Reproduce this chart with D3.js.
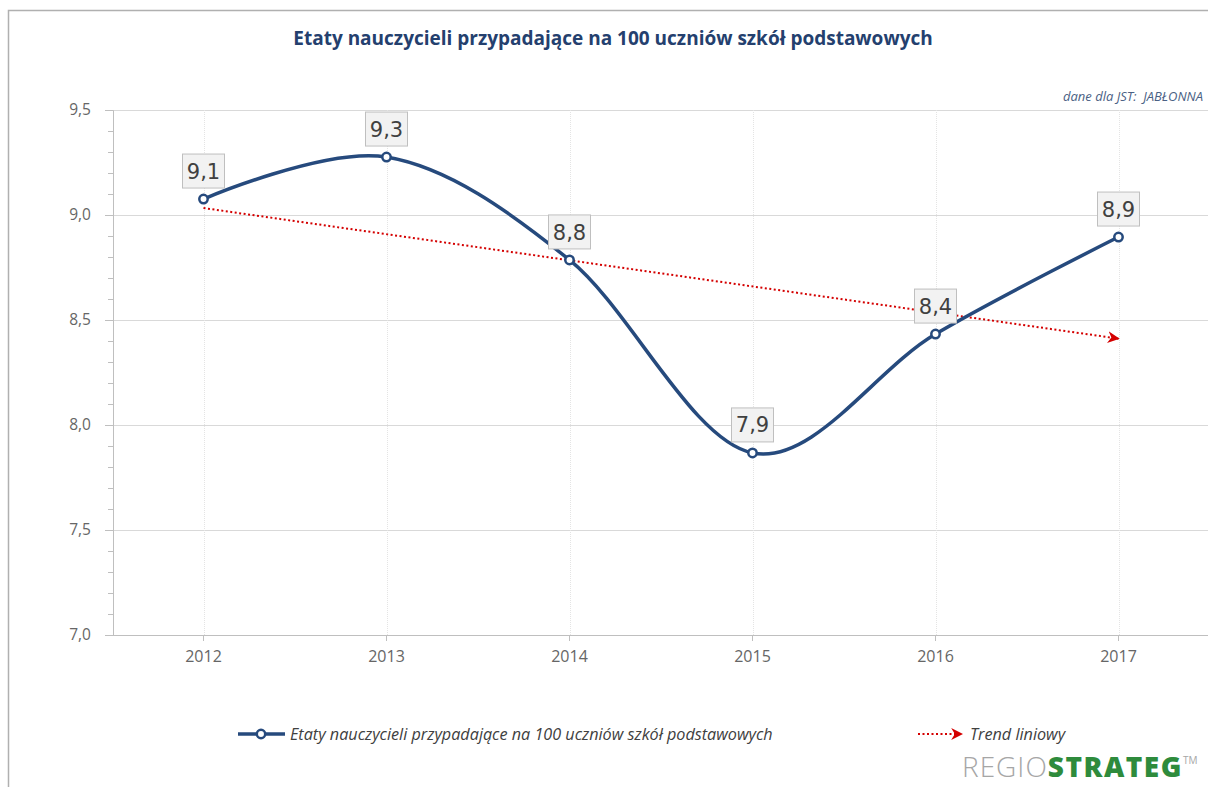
<!DOCTYPE html>
<html>
<head>
<meta charset="utf-8">
<script src="https://cdn.jsdelivr.net/npm/d3@7"></script>
<style>
  body { margin: 0; background: #fff; }
  svg { display: block; }
</style>
</head>
<body>
<div id="chart"></div>
<script>
// dane
var years = ["2012", "2013", "2014", "2015", "2016", "2017"];
var values = [9.076, 9.276, 8.786, 7.867, 8.433, 8.895];
var labels = ["9,1", "9,3", "8,8", "7,9", "8,4", "8,9"];
var yTicks = [7.0, 7.5, 8.0, 8.5, 9.0, 9.5];

var titleText = "Etaty nauczycieli przypadające na 100 uczniów szkół podstawowych";
var seriesName = "Etaty nauczycieli przypadające na 100 uczniów szkół podstawowych";
var trendName = "Trend liniowy";
var noteText = "dane dla JST:  JABŁONNA";

var W = 1208, H = 787;
var margin = {top: 110, right: -2, bottom: 152, left: 113};
var width = W - margin.left - margin.right;
var height = H - margin.top - margin.bottom;

var svg = d3.select("#chart")
    .append("svg")
    .attr("width", W)
    .attr("height", H);

// ramka
svg.append("rect")
    .attr("x", 8.5).attr("y", 10.5)
    .attr("width", 1220).attr("height", 800)
    .attr("fill", "none")
    .attr("stroke", "#b0b0b0")
    .attr("stroke-width", 1.5);

svg.append("text")
    .attr("x", 613).attr("y", 45)
    .attr("text-anchor", "middle")
    .style("font-family", "'Open Sans', sans-serif")
    .style("font-weight", "bold")
    .style("font-size", "19px")
    .style("fill", "#24406e")
    .text(titleText);

svg.append("text")
    .attr("x", 1203).attr("y", 101)
    .attr("text-anchor", "end")
    .style("white-space", "pre")
    .style("font-family", "'Open Sans', sans-serif")
    .style("font-style", "italic")
    .style("font-size", "13px")
    .style("fill", "#4a6184")
    .text(noteText);

var g = svg.append("g")
    .attr("transform", "translate(" + margin.left + "," + margin.top + ")");

var x = d3.scaleBand()
    .domain(years)
    .range([-1, 6 * 183 - 1]);

var y = d3.scaleLinear()
    .domain([7.0, 9.5])
    .range([height, 0]);

function cx(d) { return x(d) + x.bandwidth() / 2; }

// siatka pozioma
g.selectAll(".hgrid")
    .data(yTicks.slice(1))
    .enter()
    .append("line")
    .attr("x1", 0).attr("x2", width)
    .attr("y1", function(d) { return Math.round(y(d)) + 0.5; })
    .attr("y2", function(d) { return Math.round(y(d)) + 0.5; })
    .attr("stroke", "#d9d9d9");

// siatka pionowa (kropkowana)
g.selectAll(".vgrid")
    .data(years)
    .enter()
    .append("line")
    .attr("x1", function(d) { return Math.round(cx(d)) + 0.5; })
    .attr("x2", function(d) { return Math.round(cx(d)) + 0.5; })
    .attr("y1", 0).attr("y2", height)
    .attr("stroke", "#e4e4e4")
    .attr("stroke-dasharray", "1,1");

// oś Y
var yAxis = g.append("g")
    .call(d3.axisLeft(y).tickValues(yTicks).tickSize(8).tickPadding(14)
        .tickFormat(function(d) { return d3.format(".1f")(d).replace(".", ","); }));
yAxis.select(".domain").attr("stroke", "#bfbfbf");
yAxis.selectAll(".tick line").attr("stroke", "#bfbfbf");
yAxis.selectAll(".tick text")
    .style("font-family", "'Open Sans', sans-serif")
    .style("font-size", "15.5px")
    .style("fill", "#666");

// drobne podziałki Y
g.append("g")
    .call(d3.axisLeft(y).ticks(25).tickSize(5).tickFormat(""))
    .call(function(s) {
        s.select(".domain").remove();
        s.selectAll(".tick line").attr("stroke", "#bfbfbf");
    });

// oś X
var xAxis = g.append("g")
    .attr("transform", "translate(0," + height + ")")
    .call(d3.axisBottom(x).tickSize(6).tickPadding(10));
xAxis.select(".domain").attr("stroke", "#bfbfbf").attr("d", "M0,0.5H" + width);
xAxis.selectAll(".tick line").attr("stroke", "#bfbfbf");
xAxis.selectAll(".tick text")
    .style("font-family", "'Open Sans', sans-serif")
    .style("font-size", "16px")
    .style("fill", "#666");

// linia trendu (regresja liniowa)
var n = values.length;
var xm = (n - 1) / 2;
var ym = d3.mean(values);
var slope = d3.sum(values, function(v, i) { return (i - xm) * (v - ym); }) /
            d3.sum(values, function(v, i) { return (i - xm) * (i - xm); });
var trend = [ym - slope * xm, ym + slope * (n - 1 - xm)];

var defs = svg.append("defs");
defs.append("marker")
    .attr("id", "arrow")
    .attr("viewBox", "0 0 10 10")
    .attr("refX", 9).attr("refY", 5)
    .attr("markerWidth", 6).attr("markerHeight", 6)
    .attr("markerUnits", "strokeWidth")
    .attr("orient", "auto")
    .append("path")
    .attr("d", "M0,0L10,5L0,10L3,5Z")
    .attr("fill", "#d40000");

g.append("line")
    .attr("x1", cx(years[0])).attr("y1", y(trend[0]))
    .attr("x2", cx(years[n - 1])).attr("y2", y(trend[1]))
    .attr("stroke", "#d40000")
    .attr("stroke-width", 2)
    .attr("stroke-dasharray", "2,2.5")
    .attr("marker-end", "url(#arrow)");

// seria
var line = d3.line()
    .x(function(d, i) { return cx(years[i]); })
    .y(function(d) { return y(d); })
    .curve(d3.curveCardinal.tension(0));

g.append("path")
    .datum(values)
    .attr("d", line)
    .attr("fill", "none")
    .attr("stroke", "#264a7d")
    .attr("stroke-width", 3.5);

g.selectAll(".pt")
    .data(values)
    .enter()
    .append("circle")
    .attr("cx", function(d, i) { return cx(years[i]); })
    .attr("cy", function(d) { return y(d); })
    .attr("r", 4.2)
    .attr("fill", "#fff")
    .attr("stroke", "#264a7d")
    .attr("stroke-width", 2.5);

// etykiety danych
var lab = g.selectAll(".lab")
    .data(values)
    .enter()
    .append("g")
    .attr("transform", function(d, i) {
        return "translate(" + cx(years[i]) + "," + (y(d) - 28) + ")";
    });
lab.append("rect")
    .attr("x", -21).attr("y", -17)
    .attr("width", 42).attr("height", 34)
    .attr("fill", "#f2f2f2")
    .attr("stroke", "#bfbfbf");
lab.append("text")
    .attr("text-anchor", "middle")
    .attr("dy", "0.36em")
    .style("font-family", "'DejaVu Sans', sans-serif")
    .style("font-size", "21px")
    .style("fill", "#404040")
    .text(function(d, i) { return labels[i]; });

// legenda
var leg = svg.append("g");
leg.append("line")
    .attr("x1", 238).attr("x2", 285)
    .attr("y1", 734).attr("y2", 734)
    .attr("stroke", "#264a7d").attr("stroke-width", 3.5);
leg.append("circle")
    .attr("cx", 261).attr("cy", 734).attr("r", 4.2)
    .attr("fill", "#fff").attr("stroke", "#264a7d").attr("stroke-width", 2.5);
leg.append("text")
    .attr("x", 290).attr("y", 740)
    .style("font-family", "'Open Sans', sans-serif")
    .style("font-style", "italic")
    .style("font-size", "16.2px")
    .style("fill", "#404040")
    .text(seriesName);

leg.append("line")
    .attr("x1", 918).attr("x2", 962)
    .attr("y1", 734).attr("y2", 734)
    .attr("stroke", "#d40000").attr("stroke-width", 2)
    .attr("stroke-dasharray", "2,2.5")
    .attr("marker-end", "url(#arrow)");
leg.append("text")
    .attr("x", 970).attr("y", 740)
    .style("font-family", "'Open Sans', sans-serif")
    .style("font-style", "italic")
    .style("font-size", "16.2px")
    .style("fill", "#404040")
    .text(trendName);

// logo
var logo = svg.append("text")
    .attr("x", 962).attr("y", 777)
    .style("font-family", "'Open Sans', sans-serif")
    .style("font-size", "28px");
logo.append("tspan")
    .style("font-weight", "300")
    .style("letter-spacing", "1px")
    .style("fill", "#a6a6a6")
    .text("REGIO");
logo.append("tspan")
    .style("font-weight", "800")
    .style("letter-spacing", "1.5px")
    .style("fill", "#2e8b3c")
    .text("STRATEG");
logo.append("tspan")
    .attr("dy", -13)
    .style("font-size", "10px")
    .style("fill", "#a6a6a6")
    .text("TM");
</script>
</body>
</html>
